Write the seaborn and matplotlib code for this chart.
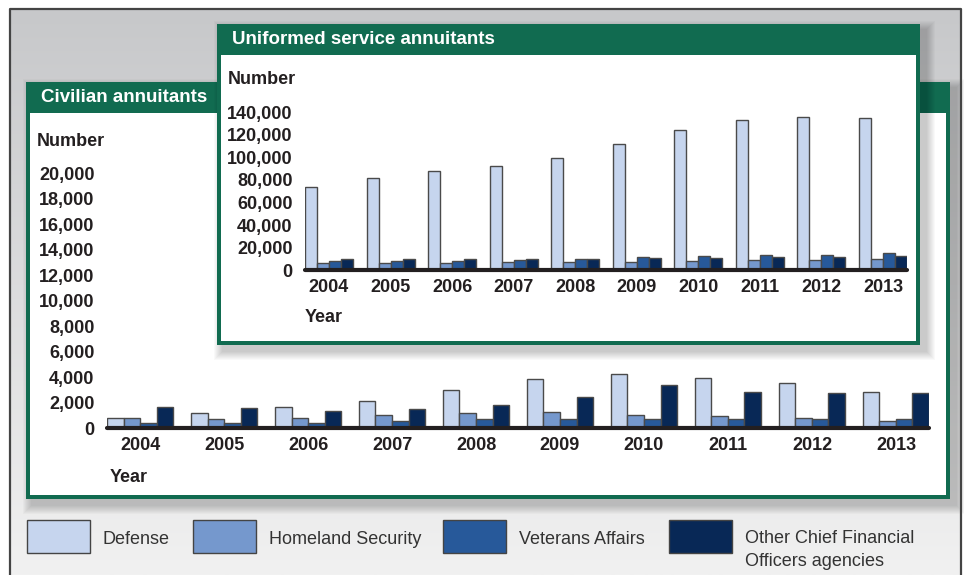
import numpy as np
import pandas as pd
import matplotlib.pyplot as plt
import seaborn as sns
from matplotlib.patches import Rectangle
from matplotlib.colors import LinearSegmentedColormap

sns.set_style("white")
plt.rcParams['font.family'] = ['Liberation Sans', 'DejaVu Sans']

# datos
years = [2004, 2005, 2006, 2007, 2008, 2009, 2010, 2011, 2012, 2013]
agencies = ["Defense", "Homeland Security", "Veterans Affairs",
            "Other Chief Financial Officers agencies"]
legend_labels = ["Defense", "Homeland Security", "Veterans Affairs",
                 "Other Chief Financial\nOfficers agencies"]
colors = ["#c6d5ee", "#7598cd", "#27599a", "#082856"]

civ_defense = [790, 1230, 1650, 2120, 3000, 3850, 4240, 3970, 3580, 2850]
civ_homeland = [790, 710, 790, 1020, 1200, 1280, 1070, 990, 830, 570]
civ_veterans = [420, 420, 420, 570, 710, 750, 730, 710, 710, 710]
civ_other = [1700, 1590, 1380, 1520, 1800, 2430, 3420, 2850, 2770, 2750]

uni_defense = [73500, 81500, 87700, 92100, 99700, 111900, 124200, 133400, 136000, 134900]
uni_homeland = [6500, 6500, 6500, 7200, 7700, 7700, 8600, 8900, 9500, 9800]
uni_veterans = [8000, 8000, 8600, 9200, 10400, 11600, 12500, 13400, 13900, 15100]
uni_other = [10100, 10100, 9800, 9800, 9800, 10700, 11300, 11600, 11900, 12500]

civ_ticks = list(range(0, 20001, 2000))
uni_ticks = list(range(0, 140001, 20000))


def long_table(series):
    rows = []
    for name, vals in zip(agencies, series):
        for y, v in zip(years, vals):
            rows.append({"Year": y, "Agency": name, "Number": v})
    return pd.DataFrame(rows)


civ = long_table([civ_defense, civ_homeland, civ_veterans, civ_other])
uni = long_table([uni_defense, uni_homeland, uni_veterans, uni_other])

green = "#116b50"
ink = "#231f20"
fig = plt.figure(figsize=(9.64, 5.75), dpi=100)


def pixel_axes(z):
    a = fig.add_axes([0, 0, 1, 1])
    a.set_xlim(0, 964)
    a.set_ylim(575, 0)
    a.axis("off")
    a.set_zorder(z)
    a.patch.set_alpha(0)
    return a


def shadow(a, x, y, w, h, off=6, steps=9):
    for k in range(1, steps + 1):
        a.add_patch(Rectangle((x + off - k, y + off - k), w + 2 * k, h + 2 * k,
                              color="black", alpha=0.025, lw=0))


def panel(a, x0, y0, x1, y1, head, title):
    shadow(a, x0, y0, x1 - x0, y1 - y0)
    a.add_patch(Rectangle((x0, y0), x1 - x0, y1 - y0, color=green, lw=0))
    a.add_patch(Rectangle((x0 + 4, head), x1 - x0 - 8, y1 - head - 4, color="white", lw=0))
    a.text(x0 + 15, (y0 + head) / 2, title, color="white", fontsize=13.5,
           fontweight="bold", va="center", ha="left")


# fondo
bg = pixel_axes(0)
grad = LinearSegmentedColormap.from_list("g", ["#c7c8ca", "#f1f1f1"])
bg.imshow(np.linspace(0, 1, 256).reshape(-1, 1), cmap=grad, aspect="auto",
          extent=[10, 961, 575, 9], origin="upper", zorder=0)
bg.plot([9.5, 9.5, 960.5, 960.5], [575, 8.5, 8.5, 575], color="#444444", lw=1.6)
bg.set_xlim(0, 964)
bg.set_ylim(575, 0)
panel(bg, 26, 82, 950, 499, 113, "Civilian annuitants")
bg.text(37, 141, "Number", fontsize=13, fontweight="bold", color=ink, va="center")
bg.text(110, 477, "Year", fontsize=13, fontweight="bold", color=ink, va="center")

# leyenda
legend_x = [27, 193, 443, 669]
for lab, c, x in zip(legend_labels, colors, legend_x):
    bg.add_patch(Rectangle((x, 520), 63, 33, facecolor=c, edgecolor="#444444", lw=1))
    bg.text(x + 76, 544 + 22 * lab.count("\n"), lab, fontsize=13, color="#333333",
            va="baseline", ha="left", linespacing=1.43)


def bars(ax, data, w, ylim, ticks):
    sns.barplot(data=data, x="Year", y="Number", hue="Agency", hue_order=agencies,
                palette=colors, saturation=1, width=w, edgecolor="#4a4a4a",
                linewidth=1, legend=False, errorbar=None, ax=ax)
    ax.set_xlim(-w / 2, len(years) - 1 + w / 2)
    ax.set_ylim(*ylim)
    ax.set_yticks(ticks)
    ax.set_yticklabels([f"{t:,}" for t in ticks])
    ax.axhline(0, color=ink, lw=3, clip_on=False, zorder=5)
    ax.set_xlabel("")
    ax.set_ylabel("")
    ax.tick_params(length=0, labelsize=13, labelcolor=ink, pad=9)
    ax.tick_params(axis="x", pad=6)
    for t in ax.get_xticklabels() + ax.get_yticklabels():
        t.set_fontweight("bold")
    sns.despine(ax=ax, left=True, bottom=True)
    ax.patch.set_alpha(0)


ax1 = fig.add_axes([107 / 964, 0.2551, 822 / 964, 0.4440])
ax1.set_zorder(1)
bars(ax1, civ, 0.786, (0, 20000), civ_ticks)

ov = pixel_axes(2)
panel(ov, 217, 24, 920, 345, 55, "Uniformed service annuitants")
ov.text(228, 80, "Number", fontsize=13, fontweight="bold", color=ink, va="center")
ov.text(305, 318, "Year", fontsize=13, fontweight="bold", color=ink, va="center")

ax2 = fig.add_axes([305 / 964, 0.5297, 602 / 964, 0.2752])
ax2.set_zorder(3)
bars(ax2, uni, 0.779, (0, 140000), uni_ticks)

fig.savefig("out.png", dpi=100)
